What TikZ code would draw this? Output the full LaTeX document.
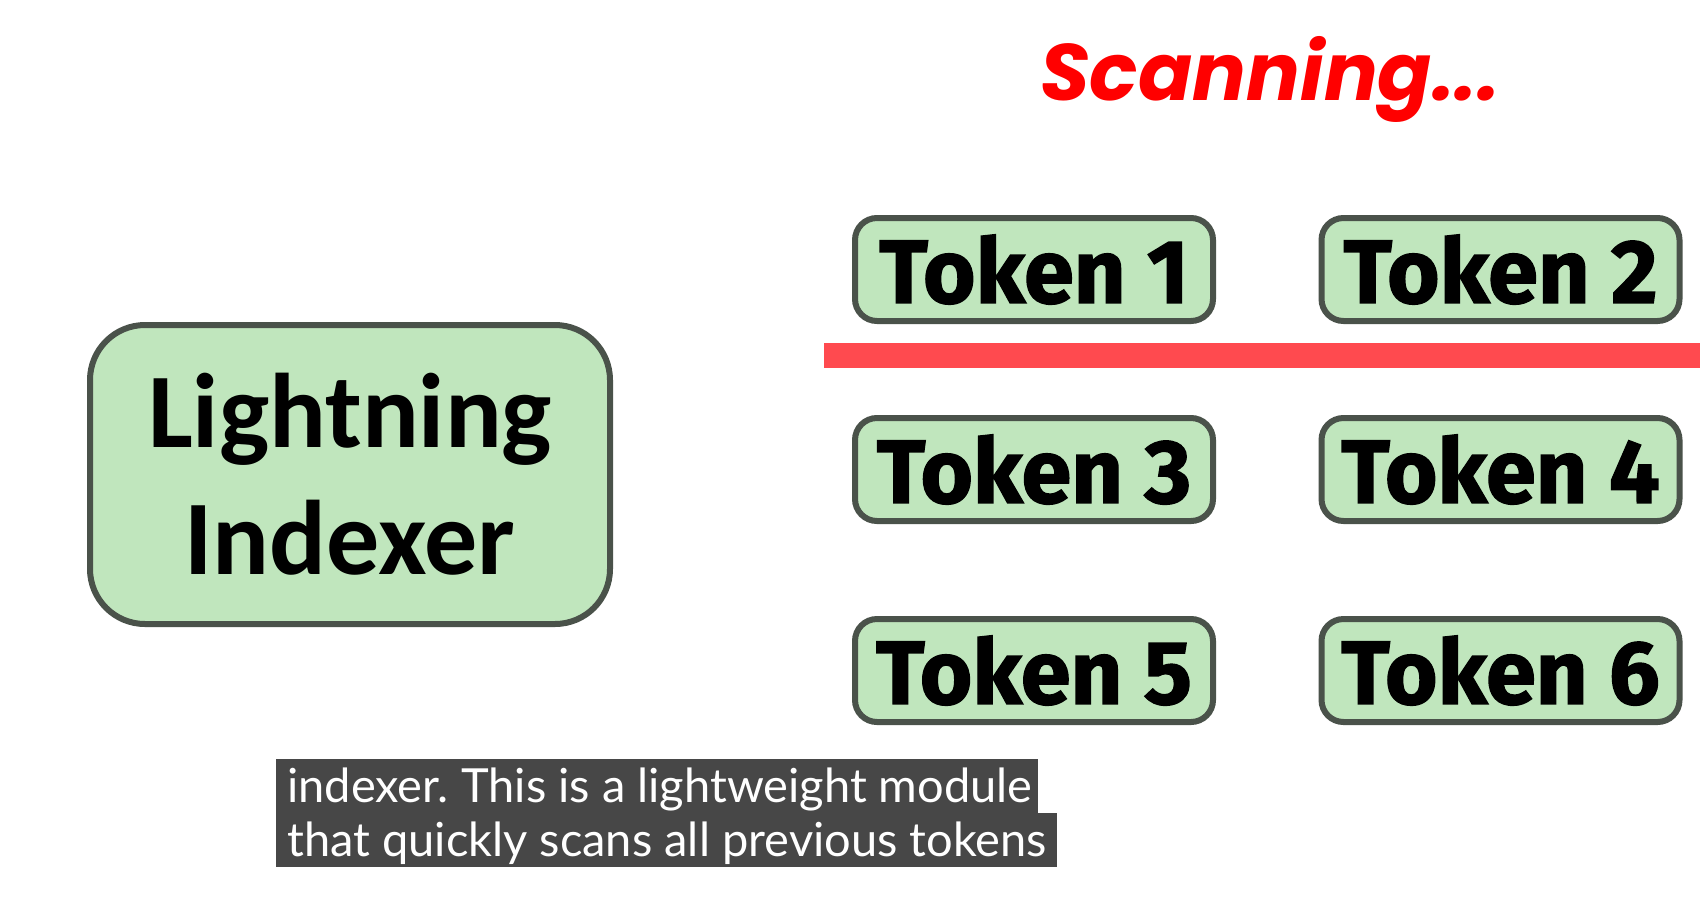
\documentclass[tikz,border=0pt]{standalone}
\usepackage{fontspec}
\newfontfamily\tokfont{Fira Sans}[BoldFeatures={FakeBold=1.5}]
\newfontfamily\calfont{Carlito}
\newfontfamily\scanfont{Poppins}
\newfontfamily\capfont{Lato}
\definecolor{boxfill}{HTML}{C0E6BD}
\definecolor{boxline}{HTML}{4A524A}
\definecolor{scanred}{HTML}{FF0000}
\definecolor{barred}{HTML}{FF4A4F}
\definecolor{capgray}{HTML}{474747}
\tikzset{
  tokenbox/.style={draw=boxline, line width=6pt, fill=boxfill, rounded corners=22pt,
    minimum width=358pt, minimum height=103pt, inner sep=0pt,
    font=\tokfont\bfseries\fontsize{90}{90}\selectfont},
  indexbox/.style={draw=boxline, line width=6pt, fill=boxfill, rounded corners=55pt,
    minimum width=520pt, minimum height=299pt, inner sep=0pt, align=center,
    font=\calfont\bfseries\fontsize{106}{127}\selectfont},
  captext/.style={text=white, anchor=base west, inner sep=0pt,
    font=\capfont\fontsize{47}{47}\selectfont}
}
\begin{document}
\frenchspacing
\begin{tikzpicture}[x=1pt,y=-1pt]
\useasboundingbox (0,0) rectangle (1700,898);
\fill[white] (0,0) rectangle (1700,898);
% title
\node[text=scanred, font=\scanfont\bfseries\itshape\fontsize{80}{80}\selectfont, anchor=base, inner sep=0pt] (scan) at (1270,100) {Scanning...};
% indexer
\node[indexbox] (idx) at (350,474.5) {Lightning\\Indexer};
% tokens
\node[tokenbox] (t1) at (1034,269.5) {Token 1};
\node[tokenbox] (t2) at (1500.5,269.5) {Token 2};
\node[tokenbox] (t3) at (1034,469.5) {Token 3};
\node[tokenbox] (t4) at (1500.5,469.5) {Token 4};
\node[tokenbox] (t5) at (1034,670.5) {Token 5};
\node[tokenbox] (t6) at (1500.5,670.5) {Token 6};
% red scan bar
\fill[barred] (824,343) rectangle (1700,368);
% caption
\fill[capgray] (276,759) rectangle (1038,814);
\fill[capgray] (276,813) rectangle (1057,867);
\node[captext] (c1) at (287,802) {indexer. This is a lightweight module};
\node[captext] (c2) at (287,856) {that quickly scans all previous tokens};
\end{tikzpicture}
\end{document}
